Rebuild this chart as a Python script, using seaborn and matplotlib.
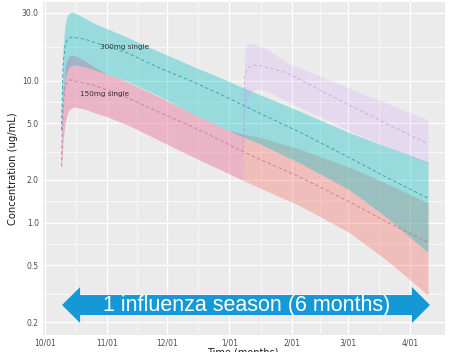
import matplotlib
matplotlib.use("Agg")
import matplotlib.pyplot as plt
import seaborn as sns
import pandas as pd
from matplotlib.patches import Polygon
from matplotlib.ticker import FixedLocator, NullFormatter

# Days since 1 October; first dose given on day 8
days = [8.2, 9, 10, 11, 12, 13, 14, 15, 20, 24, 32, 41, 57, 74, 91, 99, 107, 127, 152, 170, 191]

# 300 mg single dose: 90% band and median (ug/mL)
hi_300 = [6.0, 17, 25, 28.5, 30.0, 30.4, 30.3, 30.0, 27.5, 25.5, 22.9, 20.2, 16.0, 12.6, 10.0, 8.9, 8.0, 6.1, 4.3, 3.45, 2.68]
med_300 = [4.5, 13, 17.5, 19.3, 20.0, 20.2, 20.2, 20.1, 19.6, 18.7, 17.2, 15.7, 12.3, 9.8, 7.6, 6.7, 5.9, 4.35, 2.86, 2.1, 1.49]
lo_300 = [3.5, 7.5, 10.3, 11.7, 12.4, 12.8, 12.9, 12.9, 12.5, 12.0, 11.0, 9.9, 7.8, 5.8, 4.5, 4.0, 3.6, 2.64, 1.7, 1.1, 0.62]

# 150 mg single dose
hi_150 = [3.0, 8.5, 12.5, 14.2, 14.9, 15.1, 15.1, 15.0, 13.8, 12.6, 11.0, 9.8, 7.7, 5.8, 4.5, 4.2, 4.0, 3.3, 2.45, 1.9, 1.38]
med_150 = [2.5, 6.5, 9.0, 9.8, 10.1, 10.1, 10.0, 9.9, 9.6, 9.3, 8.5, 7.6, 6.0, 4.7, 3.6, 3.15, 2.8, 2.1, 1.4, 1.02, 0.73]
lo_150 = [2.3, 3.8, 5.0, 5.8, 6.2, 6.4, 6.5, 6.5, 6.3, 6.0, 5.5, 4.9, 3.8, 2.9, 2.24, 1.98, 1.76, 1.32, 0.85, 0.55, 0.31]

# 150 mg with a second 150 mg dose on day 99 (identical to single dose before it)
boost_days = [99.5, 100.5, 102, 104, 106, 110, 121, 137, 154, 170, 191]
boost_hi = [16.0, 17.8, 18.3, 18.2, 17.7, 16.9, 13.3, 10.8, 8.6, 7.0, 5.3]
boost_med = [10.5, 11.8, 12.5, 12.8, 12.9, 12.5, 11.3, 8.6, 6.5, 5.0, 3.6]
boost_lo = [5.5, 7.0, 8.0, 8.5, 8.7, 8.6, 7.1, 5.6, 4.3, 3.45, 2.6]

month_days = [0, 31, 61, 92, 123, 151, 182]
month_labels = ["10/01", "11/01", "12/01", "1/01", "2/01", "3/01", "4/01"]
y_ticks = [0.2, 0.5, 1.0, 2.0, 5.0, 10.0, 30.0]
y_labels = ["0.2", "0.5", "1.0", "2.0", "5.0", "10.0", "30.0"]

n_pre = days.index(99) + 1
two_dose = pd.DataFrame({
    "day": days[:n_pre] + boost_days,
    "lo": lo_150[:n_pre] + boost_lo,
    "med": med_150[:n_pre] + boost_med,
    "hi": hi_150[:n_pre] + boost_hi,
})
single_300 = pd.DataFrame({"day": days, "lo": lo_300, "med": med_300, "hi": hi_300})
single_150 = pd.DataFrame({"day": days, "lo": lo_150, "med": med_150, "hi": hi_150})

sns.set_theme(style="darkgrid")
plt.rcParams["font.family"] = ["DejaVu Sans"]

W, H = 454, 352
fig = plt.figure(figsize=(W / 100, H / 100), dpi=100)
fig.patch.set_facecolor("white")
ax = fig.add_axes([43 / W, (H - 335) / H, (445 - 43) / W, (335 - 2) / H])
ax.set_facecolor("#EBEBEB")
ax.set_yscale("log")

RED, TEAL, PURPLE = "#F8766D", "#00BFC4", "#C77CFF"

ax.fill_between(single_150["day"], single_150["lo"], single_150["hi"], color=RED, alpha=0.38, lw=0)
ax.fill_between(single_300["day"], single_300["lo"], single_300["hi"], color=TEAL, alpha=0.35, lw=0)
ax.fill_between(two_dose["day"], two_dose["lo"], two_dose["hi"], color=PURPLE, alpha=0.15, lw=0)

dash = dict(linestyle=(0, (4, 3)), linewidth=0.6)
sns.lineplot(data=single_150, x="day", y="med", ax=ax, color="#D8727A", **dash)
sns.lineplot(data=single_300, x="day", y="med", ax=ax, color="#2A9FA8", **dash)
sns.lineplot(data=two_dose, x="day", y="med", ax=ax, color="#B79BE6", alpha=0.8, **dash)

ax.set_xlim(-1, 199.5)
ax.set_ylim(0.162, 35.8)

ax.xaxis.set_major_locator(FixedLocator(month_days))
ax.set_xticklabels(month_labels)
ax.xaxis.set_minor_locator(FixedLocator([(a + b) / 2 for a, b in zip(month_days[:-1], month_days[1:])]))
ax.xaxis.set_minor_formatter(NullFormatter())

ax.yaxis.set_major_locator(FixedLocator(y_ticks))
ax.set_yticklabels(y_labels)
y_minor = [(a * b) ** 0.5 for a, b in zip(y_ticks[:-1], y_ticks[1:])]
ax.yaxis.set_minor_locator(FixedLocator(y_minor))
ax.yaxis.set_minor_formatter(NullFormatter())

ax.grid(which="major", color="white", linewidth=0.9)
ax.grid(which="minor", color="white", linewidth=0.45)
for s in ax.spines.values():
    s.set_visible(False)
ax.tick_params(which="major", length=2, width=0.6, color="#333333",
               labelsize=5.5, labelcolor="#4D4D4D", pad=1)
ax.tick_params(axis="x", which="major", pad=0.5)
ax.tick_params(which="minor", length=0)
ax.set_xlabel("")
ax.set_ylabel("Concentration (ug/mL)", fontsize=7.2, color="#1A1A1A", labelpad=2.5)

fig.text(243 / W, 1 - 352.5 / H, "Time (months)", fontsize=7, color="#1A1A1A",
         ha="center", va="center")

ax.text(27.4, 17.3, "300mg single", fontsize=5.2, color="#333333", ha="left", va="center")
ax.text(17.5, 8.07, "150mg single", fontsize=5.2, color="#333333", ha="left", va="center")

# Double-headed arrow marking one influenza season
tr = ax.get_xaxis_transform()
x0, x1, head = 8.5, 192.0, 9.0
yc, shaft, hw = 0.090, 0.030, 0.054
arrow = Polygon([
    (x0, yc), (x0 + head, yc + hw), (x0 + head, yc + shaft), (x1 - head, yc + shaft),
    (x1 - head, yc + hw), (x1, yc), (x1 - head, yc - hw), (x1 - head, yc - shaft),
    (x0 + head, yc - shaft), (x0 + head, yc - hw)],
    closed=True, transform=tr, facecolor="#1499D6", edgecolor="none", zorder=5)
ax.add_patch(arrow)
ax.text(100.7, yc, "1 influenza season (6 months)", transform=tr, ha="center", va="center",
        color="white", fontsize=15.5, family=["Liberation Sans", "DejaVu Sans"], zorder=6)

fig.savefig("out.png", dpi=100)
